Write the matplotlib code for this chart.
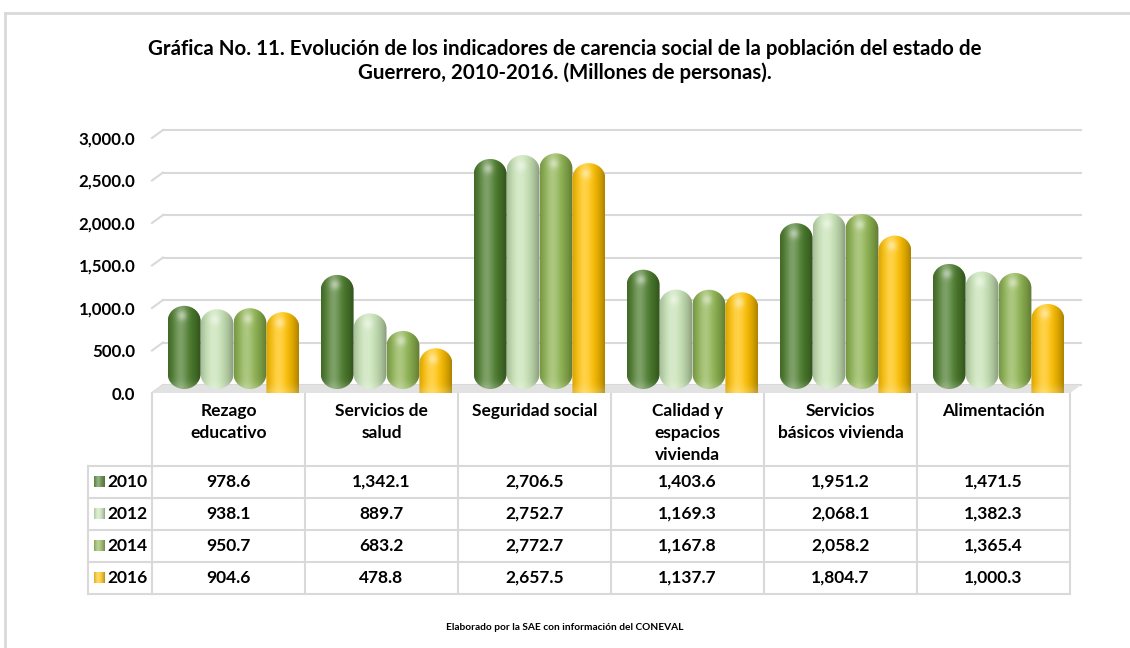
import numpy as np
import matplotlib.pyplot as plt
from matplotlib.path import Path
from matplotlib.patches import PathPatch, Polygon
from matplotlib.colors import to_rgb

plt.rcParams['font.family'] = ['Lato', 'DejaVu Sans']

categorias = ['Rezago\neducativo', 'Servicios de\nsalud', 'Seguridad social',
              'Calidad y\nespacios\nvivienda', 'Servicios\nbásicos vivienda', 'Alimentación']
anios = ['2010', '2012', '2014', '2016']
v2010 = [978.6, 1342.1, 2706.5, 1403.6, 1951.2, 1471.5]
v2012 = [938.1, 889.7, 2752.7, 1169.3, 2068.1, 1382.3]
v2014 = [950.7, 683.2, 2772.7, 1167.8, 2058.2, 1365.4]
v2016 = [904.6, 478.8, 2657.5, 1137.7, 1804.7, 1000.3]
series = [v2010, v2012, v2014, v2016]
colores = ['#4A7B2B', '#C6E2B4', '#8CB24E', '#FFC000']
yticks = [0, 500, 1000, 1500, 2000, 2500, 3000]

titulo1 = 'Gráfica No. 11. Evolución de los indicadores de carencia social de la población del estado de'
titulo2 = 'Guerrero, 2010-2016. (Millones de personas).'
fuente = 'Elaborado por la SAE con información del CONEVAL'

W, H = 1130, 648
fig = plt.figure(figsize=(W / 100, H / 100), dpi=100)
renderer = fig.canvas.get_renderer()


def ajustar(texto, ancho_px, base=10):
    # tamaño de letra para que el texto ocupe ancho_px
    t = fig.text(0, 0, texto, fontsize=base, fontweight='bold')
    wpx = t.get_window_extent(renderer).width
    t.remove()
    return base * ancho_px / wpx


fs_tabla = ajustar('Seguridad social', 125)
fs_ticks = ajustar('3,000.0', 57)
fs_titulo = ajustar(titulo1, 836)
fs_fuente = ajustar(fuente, 236)

# geometria en pixeles
x_left, x_right = 152, 1070
y0, y3000, y_top = 393, 138, 123
k = (y0 - y3000) / 3000.0
ymax = (y0 - y_top) / k
cat_px = (x_right - x_left) / len(categorias)

# ejes de fondo (tabla, titulo, marco) en pixeles
tax = fig.add_axes([0, 0, 1, 1])
tax.axis('off')

gris = '#D9D9D9'
tax.plot([5, 5], [13, H], color=gris, lw=2)
tax.plot([5, W], [13, 13], color=gris, lw=2)

tax.text(W / 2, 49, titulo1, ha='center', va='center', fontsize=fs_titulo, fontweight='bold')
tax.text(W / 2, 73, titulo2, ha='center', va='center', fontsize=fs_titulo, fontweight='bold')
tax.text(W / 2, 628, fuente, ha='center', va='center', fontsize=fs_fuente, fontweight='bold')

# tabla
cols = [x_left + cat_px * i for i in range(len(categorias) + 1)]
x_lab = 88
filas = [466, 498, 530, 562, 594]
for x in cols:
    tax.plot([x, x], [y0, filas[-1]], color=gris, lw=1.5)
tax.plot([x_lab, x_lab], [filas[0], filas[-1]], color=gris, lw=1.5)
for y in filas:
    tax.plot([x_lab, cols[-1]], [y, y], color=gris, lw=1.5)

for i, cat in enumerate(categorias):
    cx = (cols[i] + cols[i + 1]) / 2
    for n, linea in enumerate(cat.split('\n')):
        tax.text(cx, 411 + 22 * n, linea, ha='center', va='center', fontsize=fs_tabla,
                 fontweight='bold')
    for j, s in enumerate(series):
        cy = (filas[j] + filas[j + 1]) / 2
        tax.text(cx, cy, f'{s[i]:,.1f}', ha='center', va='center', fontsize=fs_tabla,
                 fontweight='bold')


def degradado(color, alto_px=60, n=40):
    c = np.array(to_rgb(color))
    m = max(int(alto_px), 2)
    t = np.linspace(0, 1, n)
    luz = np.exp(-((t - 0.38) / 0.22) ** 2)
    sombra = (np.abs(t - 0.42) / 0.58) ** 2.2
    fila = c[None, :] * (1 - 0.32 * sombra[:, None])
    fila = fila + (1 - fila) * 0.28 * luz[:, None]
    img = np.repeat(fila[None, :, :], m, axis=0)
    yy = np.arange(m)[:, None]
    xx = (t * 33)[None, :]
    # brillo suave abajo y punto de luz arriba
    brillo = np.exp(-(yy / 6.0) ** 2) * 0.18
    punto = np.exp(-(((yy - (m - 11)) / 5.0) ** 2 + ((xx - 14) / 5.0) ** 2)) * 0.45
    total = (brillo + punto)[:, :, None]
    img = img + (1 - img) * total
    return np.clip(img, 0, 1)


for j, anio in enumerate(anios):
    cy = (filas[j] + filas[j + 1]) / 2
    tax.imshow(degradado(colores[j], 2, 10), extent=(94, 105, cy + 5.5, cy - 5.5),
               aspect='auto', zorder=3)
    tax.text(107, cy, anio, ha='left', va='center', fontsize=fs_tabla, fontweight='bold')
tax.set_xlim(0, W)
tax.set_ylim(H, 0)

# ejes del grafico
ax = fig.add_axes([x_left / W, 1 - y0 / H, (x_right - x_left) / W, (y0 - y_top) / H])
ax.patch.set_alpha(0)
for sp in ax.spines.values():
    sp.set_visible(False)
ax.set_xticks([])
ax.set_yticks(yticks)
ax.set_yticklabels([f'{v:,.1f}' for v in yticks], fontsize=fs_ticks, fontweight='bold')
ax.tick_params(axis='y', length=0, pad=12)

dxb = 11 / cat_px
dyb = 8 / k
for v in yticks:
    ax.plot([-0.5, -0.5 + dxb], [v, v + dyb], color=gris, lw=1.5, clip_on=False, zorder=0)
    ax.plot([-0.5 + dxb, 5.5 + dxb], [v + dyb, v + dyb], color=gris, lw=1.5,
            clip_on=False, zorder=0)

piso = Polygon([(-0.5, 0), (5.5, 0), (5.5 + dxb, dyb), (-0.5 + dxb, dyb)],
               closed=True, facecolor='#E2E2E2', edgecolor='none', zorder=1, clip_on=False)
ax.add_patch(piso)


def capsula(x0, w, base, h, ry, fondo_redondo=True):
    rx = w / 2
    cx = x0 + rx
    arriba = Path.arc(0, 180)
    verts = list(arriba.vertices * [rx, ry] + [cx, h - ry])
    codes = list(arriba.codes)
    if fondo_redondo:
        abajo = Path.arc(180, 360)
        bv = abajo.vertices * [rx, ry] + [cx, base + ry]
        bc = list(abajo.codes)
        bc[0] = Path.LINETO
        verts += list(bv)
        codes += bc
    else:
        verts += [(cx - rx, base), (cx + rx, base)]
        codes += [Path.LINETO, Path.LINETO]
    verts.append(verts[0])
    codes.append(Path.CLOSEPOLY)
    return Path(verts, codes)


w = 0.215
ry = 15 / k
elev = 4 / k
for j, s in enumerate(series):
    redondo = j < 3
    base = elev if redondo else 0
    for i, v in enumerate(s):
        x0 = i + (j - 2) * w + 5 / cat_px
        p = capsula(x0, w, base, v + elev, ry, fondo_redondo=redondo)
        patch = PathPatch(p, facecolor='none', edgecolor='none', transform=ax.transData,
                          zorder=3)
        ax.add_patch(patch)
        alto = (v + elev - base) * k
        im = ax.imshow(degradado(colores[j], alto), extent=(x0, x0 + w, base, v + elev),
                       origin='lower', aspect='auto', interpolation='bilinear',
                       zorder=3 + j * 0.01)
        im.set_clip_path(patch)

ax.set_xlim(-0.5, 5.5)
ax.set_ylim(0, ymax)

fig.savefig('out.png', dpi=100)
